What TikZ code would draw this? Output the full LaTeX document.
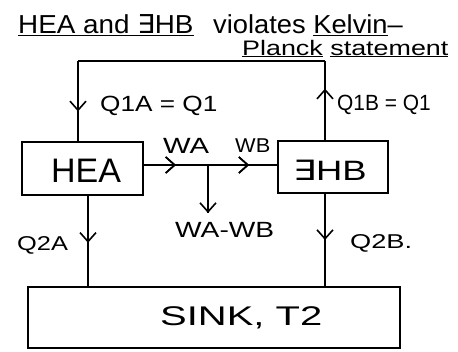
\documentclass[tikz,border=0pt]{standalone}
\usepackage{fontspec}
\usepackage{graphicx}
\setmainfont{Liberation Sans}
\newfontfamily\symf{DejaVu Sans}
\newcommand\sx[2]{\scalebox{#1}[1]{#2}}
\usetikzlibrary{arrows.meta,decorations.markings}
\tikzset{
  x=1pt,y=-1pt,
  ln/.style={line width=2pt},
  boxn/.style={draw,line width=2pt,minimum width=#1,inner sep=0pt},
  mid/.style={postaction={decorate},decoration={markings,
     mark=at position #1 with {\arrow[line width=1.6pt]{Straight Barb[length=9pt,width=16pt]}}}},
  lbl/.style={inner sep=0pt,anchor=base west},
  fs/.style={font=\fontsize{#1}{#1}\selectfont}
}
\begin{document}
\begin{tikzpicture}
\useasboundingbox (0,0) rectangle (458,351);
% title
\node[lbl,fs=26] (t1a) at (18,33.5) {\sx{1.07}{\underline{HEA and {\symf ∃}HB}}};
\node[lbl,fs=26] (t1b) at (213,33.5) {\sx{1.05}{violates \underline{Kelvin}–}};
\node[lbl,fs=21] (t2) at (242,55) {\sx{1.28}{\underline{Planck} \underline{statement}}};
% boxes
\node[boxn=121pt,minimum height=53pt] (hea) at (82.5,168.5) {};
\node[boxn=110pt,minimum height=52pt] (heb) at (333,167) {};
\node[boxn=372pt,minimum height=61pt] (sink) at (214,317.5) {};
\node[lbl,fs=34] (heat) at (51,182) {HEA};
\node[lbl,fs=28] (hebt) at (293,180) {\sx{1.3}{{\symf ∃}HB}};
\node[lbl,fs=27] (sinkt) at (160,325) {\sx{1.48}{SINK, T2}};
% coordinates
\coordinate (tl) at (78,61);
\coordinate (tr) at (325,61);
\coordinate (mw) at (208,165);
\coordinate (mwe) at (208,213);
% top loop
\draw[ln] (tl) -- (tr);
\draw[ln,mid=0.63] (tl) -- (tl |- hea.north);
\draw[ln,mid=0.65] (tr |- heb.north) -- (tr);
\node[lbl,fs=22] (q1a) at (100,111) {\sx{1.19}{Q1A = Q1}};
\node[lbl,fs=22] (q1b) at (337,110) {\sx{0.95}{Q1B = Q1}};
% work
\draw[ln,mid=0.24,mid=0.79] (hea.east |- mw) -- (heb.west |- mw);
\draw[ln,mid=1] (mw) -- (mwe);
\node[lbl,fs=22] (wa) at (163,153) {\sx{1.33}{WA}};
\node[lbl,fs=20] (wb) at (235,152) {\sx{1.09}{WB}};
\node[lbl,fs=22] (wawb) at (175,237) {\sx{1.28}{WA-WB}};
% to sink
\coordinate (la) at (88,0);
\coordinate (rb) at (325,0);
\draw[ln,mid=0.52] (la |- hea.south) -- (la |- sink.north);
\draw[ln,mid=0.5] (rb |- heb.south) -- (rb |- sink.north);
\node[lbl,fs=20] (q2a) at (17,250) {\sx{1.27}{Q2A}};
\node[lbl,fs=20] (q2b) at (350,248) {\sx{1.36}{Q2B.}};
\end{tikzpicture}
\end{document}
